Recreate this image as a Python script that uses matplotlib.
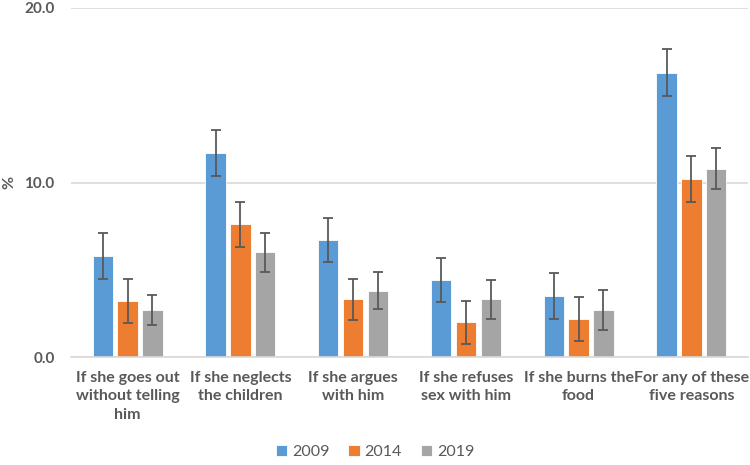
import matplotlib.pyplot as plt
import numpy as np

categories = ['If she goes out\nwithout telling\nhim', 'If she neglects\nthe children',
              'If she argues\nwith him', 'If she refuses\nsex with him',
              'If she burns the\nfood', 'For any of these\nfive reasons']
years = ['2009', '2014', '2019']
v2009 = [5.8, 11.7, 6.7, 4.4, 3.5, 16.3]
v2014 = [3.2, 7.6, 3.3, 2.0, 2.2, 10.2]
v2019 = [2.7, 6.0, 3.8, 3.3, 2.7, 10.8]
e2009 = [1.3, 1.3, 1.27, 1.25, 1.34, 1.35]
e2014 = [1.25, 1.27, 1.2, 1.23, 1.25, 1.3]
e2019 = [0.85, 1.1, 1.05, 1.1, 1.15, 1.2]

colors = ['#5B9BD5', '#ED7D31', '#A5A5A5']
text_color = '#595959'
plt.rcParams['font.family'] = ['Lato', 'DejaVu Sans']

fig = plt.figure(figsize=(7.5, 4.65), dpi=100)
ax = fig.add_axes([0.095, 0.232, 0.902, 0.751])

x = np.arange(len(categories))
width = 0.18
step = 0.22
for i, (vals, errs) in enumerate(zip([v2009, v2014, v2019], [e2009, e2014, e2019])):
    ax.bar(x + (i - 1) * step, vals, width, color=colors[i], edgecolor='white',
           linewidth=0.6, label=years[i], zorder=2,
           yerr=errs, error_kw=dict(ecolor=text_color, elinewidth=1.3, capsize=3.5, capthick=1.3))

ax.set_xlim(-0.5, len(categories) - 0.5)
ax.set_ylim(0, 20)
ax.set_yticks([0, 10, 20])
ax.set_yticklabels(['0.0', '10.0', '20.0'], fontsize=11, fontweight='bold', color=text_color)
ax.set_xticks(x)
ax.set_xticklabels(categories, fontsize=11.5, fontweight='bold', color=text_color, linespacing=1.4)
ax.tick_params(axis='x', length=0, pad=10)
ax.tick_params(axis='y', length=0, pad=12)
ax.grid(axis='y', color='#D9D9D9', linewidth=1.2, zorder=0)
for s in ['top', 'right', 'left']:
    ax.spines[s].set_visible(False)
ax.spines['bottom'].set_color('#D9D9D9')
ax.spines['bottom'].set_linewidth(1.2)
fig.text(0.012, 0.607, '%', rotation=90, ha='center', va='center',
         fontsize=11.5, fontweight='bold', color=text_color)

fig.legend(loc='lower center', bbox_to_anchor=(0.5, -0.018), ncol=3, frameon=False,
           fontsize=11.5, labelcolor=text_color, handlelength=0.7, handleheight=0.7,
           columnspacing=1.2, handletextpad=0.3)

fig.savefig('out.png', dpi=100)
